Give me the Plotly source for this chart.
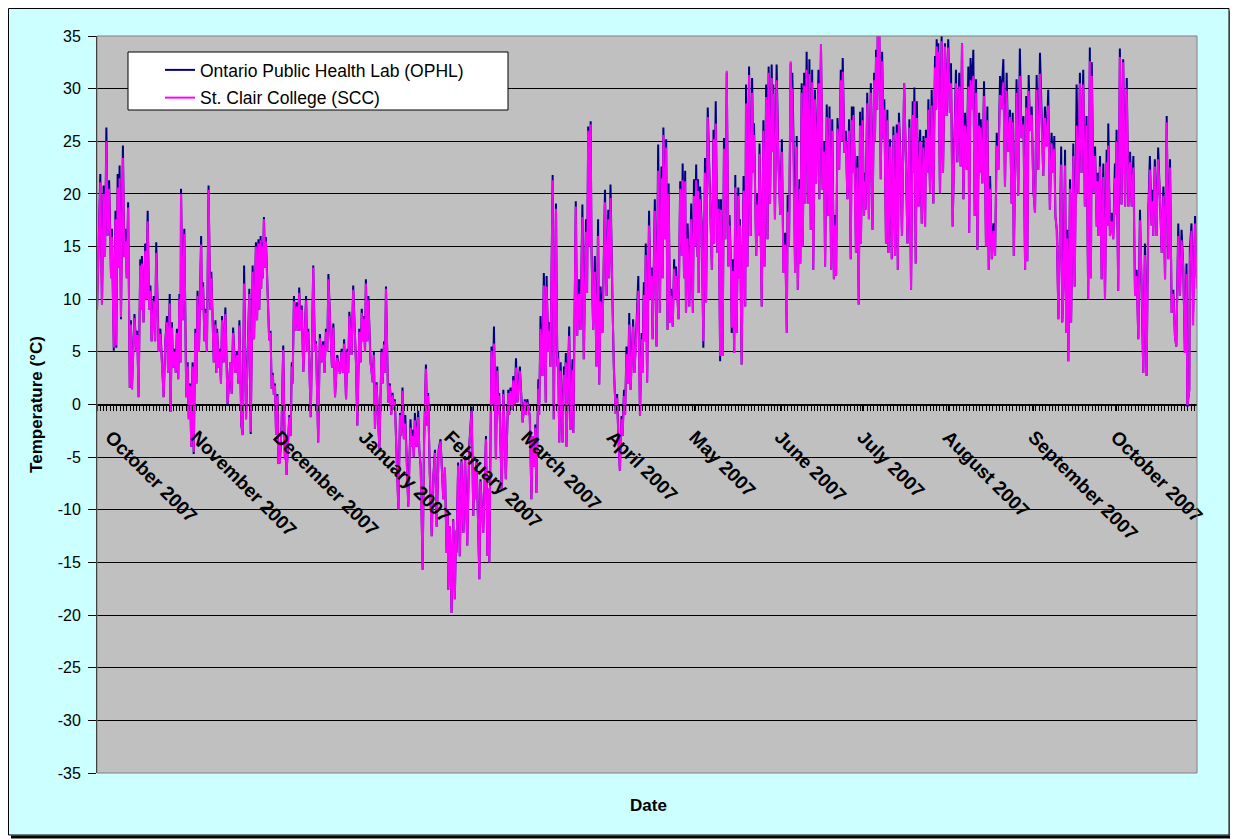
import pandas as pd
import plotly.graph_objects as go

# ---------------- data ----------------
START = "2006-09-26"          # day 0 of the record
END_DAY = 399.3               # right edge of the plotted period (days after START)

month_ticks = ["2006-10-01", "2006-11-01", "2006-12-01", "2007-01-01", "2007-02-01",
               "2007-03-01", "2007-04-01", "2007-05-01", "2007-06-01", "2007-07-01",
               "2007-08-01", "2007-09-01", "2007-10-01"]
month_labels = ["October 2007", "November 2007", "December 2007", "January 2007",
                "February 2007", "March 2007", "April 2007", "May 2007", "June 2007",
                "July 2007", "August 2007", "September 2007", "October 2007"]
y_ticks = [-35, -30, -25, -20, -15, -10, -5, 0, 5, 10, 15, 20, 25, 30, 35]
y_labels = ["-35", "-30", "-25", "-20", "-15", "-10", "-5", "0", "5", "10", "15",
            "20", "25", "30", "35"]

# segment A: late Sep - mid Nov
days_a = [0.0, 1.2, 1.8, 2.4, 2.9, 3.4, 3.9, 4.4, 5.1, 5.4,
          6.1, 6.7, 7.0, 7.5, 7.9, 8.2, 8.7, 9.4, 9.9, 10.3,
          10.8, 11.3, 11.9, 12.3, 12.7, 13.6, 14.3, 14.6, 15.1, 15.7,
          16.1, 16.3, 16.9, 17.5, 17.9, 18.4, 18.9, 19.4, 19.8, 20.6,
          21.1, 21.5, 22.4, 23.0, 24.2, 24.8, 25.4, 25.8, 26.4, 26.7,
          27.2, 27.6, 28.1, 28.6, 29.0, 29.5, 29.9, 30.3, 30.5, 31.1,
          31.7, 32.4, 32.9, 33.3, 33.8, 34.2, 34.7, 35.1, 35.7, 36.1,
          36.5, 37.0, 37.8, 38.1, 38.5, 39.0, 39.3, 39.9, 40.5, 41.1,
          41.5, 42.4, 43.0, 43.3, 43.6, 44.2, 44.5, 45.0, 45.4, 46.0,
          46.6, 47.4, 48.4, 48.9, 49.4, 50.2, 50.8, 51.3, 51.7, 52.4]
ophl_a = [9, 21.9, 9.5, 20.8, 14, 26.3, 16, 21.3, 12, 16.7,
          5.1, 18.4, 5.4, 21.9, 13, 22.7, 8.1, 24.6, 14, 16.7,
          12, 19.2, 1.6, 8, 1.6, 8.6, 5, 7, 0.7, 13.8,
          9, 14.1, 7.8, 15.3, 10, 18.4, 9, 11.3, 6, 10.3,
          6, 15.4, 5, 7.2, 0.7, 6, 8.4, 3, 10.5, -0.7,
          7.8, 3.5, 5.3, 3, 7.2, 2.4, 10.5, 4, 20.5, 8,
          16.7, 0.7, 4, -1.4, 2, -4, 4, -4.7, 7.2, 2,
          10.8, 5, 16, 9, 11.6, 6, 9.1, 5, 20.8, 9,
          12.6, 4, 8, 3, 7.2, 3.5, 5.3, 2, 8.4, 4,
          9.2, -0.1, 4, 1, 7.3, 3, 5, 2, 8, -2]
scc_a = [9, 21.1, 9.5, 20.0, 14, 25.0, 16, 20.5, 12, 15.9,
         5.4, 17.6, 5.6, 20.6, 13, 21.5, 8.3, 23.4, 14, 15.5,
         12, 18.7, 1.6, 7.6, 1.4, 8.2, 5, 6.6, 0.7, 13.2,
         9, 13.4, 7.8, 14.6, 10, 17.4, 9, 10.8, 6, 9.8,
         6, 14.4, 5, 6.7, 0.7, 6, 7.8, 3, 9.6, -0.7,
         7.3, 3.5, 5, 3, 6.8, 2.4, 10, 4, 20, 8,
         16.2, 0.7, 3.6, -1.4, 1.8, -4, 3.6, -4.5, 6.8, 2,
         10.3, 5, 15.2, 9, 11.2, 6, 8.7, 5, 20.4, 9,
         12, 4, 7.6, 3, 6.8, 3.5, 5, 2, 8, 4,
         8.6, 0.1, 4, 1, 6.8, 3, 4.7, 2, 7.5, -1.8]

# segment B: mid Nov - early Jan
days_b = [52.9, 53.4, 54.1, 55.3, 55.8, 56.5, 57.0, 57.7, 58.1, 58.6,
          58.9, 59.4, 59.6, 59.9, 60.2, 60.6, 61.0, 61.3, 62.5, 63.0,
          63.4, 63.8, 64.2, 64.6, 65.0, 65.5, 65.8, 66.4, 67.0, 67.6,
          68.2, 68.6, 68.8, 69.8, 70.3, 70.7, 71.0, 71.5, 72.0, 72.5,
          73.0, 73.4, 73.9, 74.3, 74.9, 75.9, 76.3, 76.7, 77.6, 78.5,
          79.1, 79.5, 80.3, 80.9, 81.5, 82.1, 82.6, 83.1, 83.6, 84.0,
          84.8, 85.3, 85.8, 86.4, 87.2, 88.2, 88.8, 89.3, 89.7, 90.4,
          90.9, 91.2, 91.6, 92.4, 93.0, 94.0, 94.5, 95.2, 95.7, 96.1,
          96.6, 96.9, 97.3, 97.6, 98.1, 98.5, 99.3, 100.1, 100.5, 100.9,
          101.5, 102.0, 102.5, 103.3, 103.7, 104.2, 104.5, 104.9]
ophl_b = [-2.9, 13.2, -1.4, 11, -2.8, 13.2, 6.2, 15.4, 8, 15.7,
          9, 16, 11, 15.4, 12, 17.8, 13, 15.9, 6.1, 7,
          1.5, 3, 0.9, 2, -2.9, 1, -5.6, -5.5, -2, 5.6,
          -5.2, -3, -6.7, -1, -3, 4, 2, 10.3, 7, 9.7,
          7, 11.1, 7, 9.4, 3.1, 10.3, 5, 7.2, -1.2, 13.2,
          5, 6, -3.6, 6.7, 4, 6, 3, 7.2, 5, 12.4,
          6.6, 3.5, 7.7, 0.7, 4.7, 2.9, 5.3, 3, 6.2, 0.5,
          5.3, 3, 8.8, 4.7, 11.3, 4, -2, 7.2, 4, 9.1,
          6, 8.4, 5, 11.9, 6, 10.3, 4, 2.1, 5, -2.3,
          2.1, -1, -4.2, 5.3, 2, 6, 3, 11.2]
scc_b = [-2.9, 11.5, -1.4, 10.5, -2.6, 12.6, 6.2, 15, 8, 15.3,
         9, 15.6, 11, 15, 12, 17.6, 13, 15.5, 6.1, 6.8,
         1.5, 2.8, 0.9, 1.8, -2.9, 0.8, -5.6, -5.5, -2, 5.2,
         -5.2, -3.2, -6.7, -1.2, -3, 3.6, 2, 9.8, 7, 9.3,
         7, 10.6, 7, 9, 3.1, 9.9, 5, 6.9, -1.2, 13,
         5, 5.8, -3.6, 6.3, 4, 5.7, 3, 6.9, 5, 11.9,
         6.6, 3.5, 7.3, 0.7, 4.4, 2.9, 5, 3, 5.8, 0.5,
         5, 3, 8.4, 4.7, 10.9, 4, -2, 6.9, 4, 8.7,
         6, 8.1, 5, 11.5, 6, 9.9, 4, 2.1, 4.7, -2.3,
         1.9, -1, -4.2, 5, 2, 5.7, 3, 11]

# segment C: January - February
days_c = [105.7, 106.3, 106.8, 107.3, 107.8, 108.1, 108.5, 109.4, 110.0, 110.4,
          110.9, 111.4, 111.9, 112.4, 113.0, 113.8, 114.2, 114.6, 115.0, 115.4,
          116.0, 116.6, 117.0, 117.5, 118.2, 118.7, 119.4, 119.9, 120.2, 120.8,
          121.5, 122.1, 122.7, 123.3, 124.0, 124.7, 125.7, 126.3, 126.9, 127.3,
          127.5, 128.1, 128.7, 129.3, 129.9, 130.3, 130.5, 131.1, 131.7, 132.3,
          133.0, 133.6, 134.4, 135.1, 136.0, 136.6, 136.9, 137.3, 137.8, 138.8,
          139.2, 140.2, 141.2, 141.7, 142.0, 142.4, 143.2, 143.6, 144.1, 144.8,
          145.3, 145.7, 146.0, 146.9, 147.5, 148.4, 149.3, 149.6, 150.1, 150.6,
          151.1, 151.6, 152.1, 152.6, 153.0]
ophl_c = [0.2, 2, -1, 1.1, -0.5, 0.5, -2.4, -10, -0.8, -3,
          1.6, -3.3, -1, -4.9, -9.7, -1.4, -4, -2.4, -5, -0.8,
          -4, -0.6, -4.3, -5.9, -15.7, -4, 3.8, -2, 1.1, -6.5,
          -12.5, -6.8, -4.3, -11.6, -4.3, -3.3, -9, -6, -14.1, -10,
          -17.6, -11.6, -19.8, -10.9, -18.5, -12, -14.1, -5.5, -14.4, -5.2,
          -12.2, -4.9, -13.4, -4, -0.2, -10.6, -6, -9, -5.2, -16.6,
          -7.1, -12.2, -3, -14.4, -8, -15, 5.5, 0, 7.4, -5.2,
          3.6, -1, 1.1, -8.1, 1.4, -7.1, 1.4, -1, 1.6, -0.5,
          2.7, 0, 4.4, 0.2, 1.5]
scc_c = [0.2, 1.8, -1, 0.9, -0.5, 0.3, -2.4, -10, -1, -3,
         1.3, -3.3, -1.8, -4.9, -9.7, -2.2, -4, -3, -5, -1.5,
         -4, -1.2, -4.3, -5.9, -15.7, -4, 3.4, -2, 0.8, -6.5,
         -12.5, -6.8, -4.6, -11.6, -4.5, -3.5, -9, -6, -14.1, -10,
         -17.6, -11.6, -19.8, -11, -18.5, -12, -14.1, -5.8, -14.4, -5.4,
         -12.2, -5.2, -13.4, -4.2, -0.6, -10.6, -6, -9, -5.5, -16.6,
         -7.3, -12.2, -3.3, -14.4, -8, -15, 5.1, 0, 5.8, -5.2,
         3.2, -1, 0.8, -8.1, 1, -7.1, 1.1, -1, 1.3, -0.5,
         2.3, 0, 3.5, 0.2, 1.2]

# segment D: March - April
days_d = [153.5, 154.5, 155.3, 155.7, 156.2, 157.1, 157.7, 158.1, 158.6, 159.1,
          159.5, 160.2, 160.5, 161.0, 161.7, 162.2, 162.9, 163.2, 163.8, 164.1,
          164.6, 165.4, 165.8, 166.6, 167.1, 167.4, 167.8, 168.3, 169.0, 169.5,
          169.8, 170.2, 170.4, 171.4, 171.9, 172.6, 172.9, 173.8, 174.3, 175.0,
          175.5, 176.2, 176.7, 177.5, 177.9, 178.3, 178.8, 179.2, 179.5, 180.1,
          180.7, 181.3, 181.9, 182.3, 182.8, 183.5, 184.4, 185.0, 185.6, 185.9,
          186.4, 187.1, 187.6, 188.3, 188.8, 189.2, 189.8, 190.4, 190.8, 191.3,
          191.7, 192.2, 192.8, 193.2, 193.7, 194.6, 195.1, 195.6, 196.5, 197.1,
          197.7, 198.0, 198.5, 198.9, 199.2, 199.7, 200.4, 200.9, 201.3, 201.7,
          202.5, 203.1, 203.7, 204.3, 204.9, 205.3, 205.6]
ophl_d = [3.6, -1.7, 0.5, -1, 0.5, -1.1, -9, -3, -5.9, -1.9,
          -8.4, 2.4, -1, 8.4, 2.7, 12.5, 0.2, 12.2, 5, 7.8,
          3.6, 21.8, -1.4, 19.1, 3.6, 5, -3.6, 4, -3.6, 3.6,
          1, 4.9, -4, 7.4, -2.4, 4.3, -2.7, 19.3, 6.5, 11.9,
          7.1, 19, 4.3, 17.6, 10.6, 26.4, 15, 26.9, 14.7, 7.1,
          14.1, 3.6, 17.6, 1.9, 11.2, 6.8, 20.4, 10.3, 18.5, 12,
          20.9, 10, 3.6, -0.9, 1, -2.7, -6.3, -1.1, -3, 1.4,
          -1, 5.5, 2, 8.7, 1.4, 8.1, 3, 5.9, 12.2, -1.1,
          6.8, 3, 11.6, 6, 15.3, 2.1, 18.4, 10, 13, 6.2,
          19.5, 5.5, 24.7, 8.7, 22.6, 12, 26.3]
scc_d = [3.2, -1.7, 0.3, -1, 0.2, -1.1, -9, -3, -5.9, -2.2,
         -8.4, 1.5, -1, 7.2, 2.7, 11.3, 0.2, 11.2, 5, 7,
         3.6, 21.3, -1.4, 18.6, 3.6, 4.4, -3.6, 3.2, -3.6, 2.8,
         1, 4, -4, 6.5, -2.4, 3.3, -2.7, 18.8, 6.5, 10.5,
         7.1, 17.8, 4.3, 16.4, 10.6, 26, 15, 26.6, 14.7, 7.1,
         12.6, 3.6, 16, 1.9, 9.8, 6.8, 19.2, 10.3, 17.6, 12,
         19.6, 10, 3.6, -0.9, 0.6, -2.7, -6.3, -1.4, -3, 0.8,
         -1, 4.8, 2, 7.6, 1.4, 7.4, 3, 5.7, 10.8, -1.1,
         6.2, 3, 10.4, 6, 14.2, 2.1, 17, 10, 12.2, 6.2,
         18.4, 5.5, 22.2, 8.7, 21.5, 12, 25.6]

# segment E: May - June
days_e = [206.1, 206.6, 207.1, 207.5, 208.0, 208.4, 209.0, 209.5, 209.8, 210.2,
          211.1, 211.7, 212.3, 212.6, 213.1, 213.5, 213.8, 214.4, 215.0, 215.7,
          216.3, 216.7, 217.1, 217.5, 218.0, 218.2, 218.4, 218.9, 219.5, 220.1,
          220.7, 221.1, 221.7, 222.5, 223.2, 223.8, 224.0, 224.6, 225.2, 225.7,
          226.2, 226.5, 227.1, 227.6, 228.1, 228.6, 229.2, 229.6, 230.1, 230.4,
          230.8, 231.3, 231.7, 232.2, 232.8, 233.2, 233.4, 234.0, 234.7, 235.3,
          235.6, 236.1, 236.7, 237.3, 237.8, 238.3, 238.5, 239.3, 239.7, 240.1,
          240.5, 241.3, 241.9, 242.3, 242.9, 243.4, 243.8, 244.3, 244.9, 245.3,
          245.5, 246.1, 246.7, 247.4, 248.0, 248.6, 249.2, 249.8, 250.4, 250.7,
          251.2, 251.8, 252.2, 252.4, 253.0, 253.4, 254.0, 254.4, 255.0, 255.3]
ophl_e = [15.7, 25.2, 7.1, 21, 7.8, 11, 7.4, 13.8, 10, 13.1,
          8.1, 21.2, 14.1, 22.9, 12, 22.2, 8.7, 17.2, 9.3, 19.1,
          8.7, 21.4, 15, 22.8, 14, 21.4, 10.6, 20.7, 17.2, 5.4,
          23.4, 9.7, 28.2, 18.8, 12.8, 26.1, 15.3, 28.8, 14.4, 19.5,
          4.1, 19.5, 4.6, 25.3, 15.7, 31.5, 13.1, 18, 13.5, 6.8,
          13.8, 4.9, 21.8, 6.8, 20.6, 12, 17.6, 3.8, 21.7, 9.3,
          30.4, 13.1, 32.1, 16, 31, 22, 26.7, 14.1, 20, 16,
          24.8, 9.3, 27, 13.1, 30.4, 15.7, 32.1, 19.1, 32.3, 24,
          30.4, 17.6, 32.3, 22.9, 18, 25.2, 12.5, 16.3, 6.8, 19.9,
          15, 32.4, 25, 31.5, 22.6, 12.5, 25.5, 10.9, 21.4, 13.4]
scc_e = [15.7, 24.4, 7.1, 20, 7.8, 10.3, 7.4, 12.9, 10, 12.2,
         8.1, 20.5, 14.1, 21.3, 12, 21.2, 8.7, 15.8, 9.3, 17.6,
         8.7, 19.8, 15, 21.3, 14, 20.3, 10.6, 19.5, 16.8, 6,
         22, 9.7, 27.3, 18.8, 12.8, 25.2, 15.3, 26.7, 14.4, 18.6,
         4.6, 18.5, 4.6, 24.3, 15.7, 31.7, 13.1, 17, 13.5, 7.3,
         12.7, 4.9, 20.6, 6.8, 19.8, 12, 17, 3.8, 20.3, 9.3,
         28.6, 13.1, 31.3, 16, 29.6, 22, 25.6, 14.1, 19, 16,
         23.8, 9.3, 26, 13.1, 29.2, 15.7, 31.5, 19.1, 31, 24,
         29.5, 17.6, 30.8, 22.2, 18, 24, 12.5, 15.2, 6.8, 18.3,
         15, 32.6, 25, 30, 21.5, 12.5, 24.5, 10.9, 20.5, 13.4]

# segment F: June - July
days_f = [255.8, 256.2, 256.7, 257.1, 257.6, 258.2, 258.6, 259.1, 259.6, 260.0,
          260.6, 261.0, 261.9, 262.2, 262.8, 263.4, 263.9, 264.3, 264.9, 265.5,
          265.9, 266.5, 266.9, 267.5, 267.9, 268.3, 268.8, 269.4, 270.0, 270.3,
          270.7, 271.3, 271.8, 272.4, 273.0, 273.6, 274.0, 274.3, 274.6, 275.2,
          275.5, 276.0, 276.5, 277.0, 277.3, 277.9, 278.4, 278.8, 279.0, 279.6,
          280.2, 280.9, 281.5, 282.1, 282.4, 282.8, 283.2, 283.4, 283.8, 284.0,
          284.5, 285.0, 285.5, 285.8, 286.4, 286.9, 287.3, 287.9, 288.5, 289.1,
          289.7, 290.3, 290.7, 291.1, 291.7, 292.2, 293.0, 293.6, 294.2, 294.9,
          295.5, 296.1, 296.4, 296.7, 297.2, 297.6, 298.2, 298.8, 299.4, 300.0,
          300.6, 300.9, 301.4, 301.8, 302.4, 303.0, 303.6, 304.2, 304.6, 304.8,
          305.2, 305.4]
ophl_f = [30.5, 15, 31.5, 19.1, 33.5, 19.1, 32.8, 16.6, 31.8, 12.8,
          29.9, 21, 31.8, 19.5, 34.2, 20.4, 25, 13.1, 28.5, 17.9,
          28.3, 12.8, 27.1, 11.9, 18, 12.2, 27.2, 22.3, 31.8, 25,
          32.9, 23.9, 26, 19.5, 27.1, 13.8, 28.3, 22, 28.3, 21,
          14.4, 23.6, 9.5, 27.8, 15.3, 28.2, 17.9, 22, 18.5, 29.6,
          17.6, 30.5, 16.6, 31.5, 25, 33.7, 28, 35.1, 30, 35,
          21.4, 33.5, 25.2, 29, 15.3, 28, 14.4, 25.2, 13.8, 26.4,
          14.1, 26.6, 12.8, 27.7, 22.9, 16, 30.5, 23.6, 15.3, 27.1,
          10.9, 28.8, 22, 30.1, 13.4, 28.8, 18.8, 26.1, 17.2, 25.5,
          16.9, 26.1, 22, 29, 20.1, 29.9, 19.1, 33.1, 28, 34.7,
          30, 34.3]
scc_f = [29.6, 15, 30.3, 19.1, 31.8, 19.1, 31.4, 16.6, 30.6, 12.8,
         29, 21, 30.5, 19.5, 34.2, 20.4, 24, 13.1, 27.3, 17.9,
         27.2, 12.8, 26, 11.9, 17, 12.2, 26.2, 22.3, 30.8, 25,
         31.6, 23.9, 25, 19.5, 26, 13.8, 27, 22, 27.5, 20.5,
         14.4, 22.5, 9.5, 26.5, 15.3, 27, 17.9, 21.2, 18.5, 28.6,
         17.6, 29.6, 16.6, 30.8, 25, 33, 28, 35.1, 30, 35,
         21.4, 32.6, 25.2, 28, 15.3, 27, 14.4, 24.5, 13.8, 25.6,
         14.1, 25.8, 12.8, 26.8, 22.5, 16, 30.5, 23.6, 15.3, 26.3,
         10.9, 27.5, 22, 28.8, 13.4, 27.2, 18.8, 25, 17.2, 24.4,
         16.9, 25.3, 22, 28, 20.1, 28.4, 19.1, 32, 28, 34,
         30, 33.5]

# segment G: August - early September
days_g = [306.0, 306.6, 307.1, 307.8, 308.4, 309.0, 309.6, 310.0, 310.6, 311.1,
          311.8, 312.3, 313.0, 313.5, 314.0, 314.5, 315.1, 315.7, 316.3, 316.6,
          317.1, 317.6, 318.1, 318.6, 319.1, 319.6, 320.2, 320.5, 320.8, 321.4,
          322.0, 322.7, 323.2, 323.7, 324.2, 324.8, 325.4, 326.0, 326.6, 327.2,
          327.8, 328.4, 329.0, 329.6, 330.2, 330.8, 331.4, 332.0, 332.4, 332.8,
          333.3, 333.8, 334.4, 335.0, 335.6, 336.3, 336.9, 337.3, 337.7, 338.2,
          338.7, 339.3, 339.9, 340.5, 341.1, 341.7, 342.3, 342.9, 343.5, 344.1,
          344.7, 345.3, 345.9, 346.5, 347.1, 347.5, 347.9, 348.4, 349.0, 349.6,
          350.0, 350.4, 350.9, 351.4, 351.8, 352.2, 352.6, 353.2, 353.6, 354.4]
ophl_g = [20.1, 35.0, 22.0, 34.3, 27.4, 34.7, 27.7, 32.4, 16.9, 23.6,
          31.8, 23.0, 31.5, 22.6, 34.3, 19.5, 27.7, 22.3, 32.1, 16.3,
          32.9, 29.0, 33.7, 17.9, 30.9, 14.7, 27.7, 22, 27.1, 21,
          30.7, 15, 28.3, 12.8, 21.7, 13.8, 17.2, 14.1, 25.8, 22.3,
          31.2, 29.3, 32.8, 20.7, 31.5, 24, 28, 19.1, 27.7, 14.1,
          21.7, 30.9, 19.8, 33.8, 25.3, 27.4, 12.8, 29.3, 13.6, 31.3,
          26, 28.3, 20.4, 18.2, 31.3, 22.3, 33.4, 27.7, 21.7, 28.3,
          24.5, 29.9, 18.5, 25.8, 22, 25.5, 17.9, 16.6, 8.1, 17.2,
          24.5, 7.8, 11.9, 24.2, 6.8, 16.6, 4.1, 21.4, 7.8, 24.8]
scc_g = [20.1, 34.5, 22, 34, 27.4, 33.9, 27.7, 30.5, 16.9, 23,
         30.5, 23, 30.2, 22.6, 34.3, 19.5, 26.5, 22.3, 30.2, 16.3,
         30.8, 28, 31.2, 17.9, 29.6, 14.7, 26.5, 22, 26.3, 21,
         29.3, 15, 27, 12.8, 20.5, 13.8, 16.5, 14.1, 24.6, 22.3,
         29.4, 28, 30.6, 20.7, 29.8, 24, 27.3, 19.1, 26.8, 14.1,
         21, 29.6, 19.8, 31.2, 25.3, 26.6, 12.8, 28.2, 13.6, 29.8,
         26, 27.5, 20.4, 18.2, 29.9, 22.3, 31.4, 27, 21.7, 27.2,
         24.5, 28.4, 18.5, 24.8, 22, 24.3, 17.9, 16.6, 8.1, 17,
         22.8, 7.8, 11.5, 22.7, 6.8, 15.8, 4.1, 20.5, 7.8, 23.6]

# segment H: mid September - end of October
days_h = [354.9, 355.6, 356.2, 356.8, 357.4, 358.0, 358.6, 359.2, 359.8, 360.4,
          360.8, 361.1, 361.7, 362.3, 362.9, 363.2, 363.5, 364.1, 364.7, 365.3,
          365.9, 366.5, 366.8, 367.1, 367.7, 368.3, 368.9, 369.5, 369.8, 370.1,
          370.7, 371.3, 371.9, 372.5, 373.2, 373.8, 374.4, 375.0, 375.6, 376.2,
          376.8, 377.4, 378.0, 378.6, 379.2, 379.8, 380.4, 381.0, 381.6, 382.2,
          382.8, 383.2, 383.4, 384.0, 384.6, 385.2, 385.8, 386.5, 387.1, 387.7,
          388.3, 388.9, 389.5, 390.1, 390.7, 391.3, 391.8, 392.5, 393.1, 393.7,
          394.3, 394.9, 395.5, 395.8, 396.5, 396.7, 397.3, 397.9, 398.6, 399.2]
ophl_h = [11.2, 30.4, 20, 31.5, 22, 31.8, 18.8, 27.4, 10, 33.9,
          12, 32.5, 20.1, 24.5, 16.9, 22, 16, 23.6, 11.9, 22.9,
          10, 24.2, 17, 26.7, 16, 18.2, 15.7, 22.9, 18, 26.1,
          10.8, 33.8, 19, 32.8, 18.8, 31, 18.8, 24, 18.8, 23.6,
          10.3, 12.8, 6.2, 18.5, 11.9, 3, 15.3, 2.7, 18.2, 23.6,
          17, 20.4, 16, 23.3, 16, 24.4, 20, 14.4, 20.7, 11.9,
          27.4, 13.8, 23.3, 8.7, 10.9, 6.5, 5.5, 17.2, 10.3, 16.6,
          13.1, 4.9, 13.4, -0.2, 1.4, 14.7, 17.2, 8.7, 17.9, 12]
scc_h = [11.2, 26.5, 20, 30.5, 22, 30.4, 18.8, 26.5, 10, 32.6,
         12, 31.2, 20.1, 23.6, 16.9, 21.2, 16, 22.6, 11.9, 21.6,
         10, 23, 17, 24.6, 16, 17.4, 15.7, 21.5, 18, 25,
         10.8, 33, 19, 32.5, 18.8, 30, 18.8, 23, 18.8, 22.5,
         10.3, 12.2, 6.2, 17.5, 11.9, 3, 14.2, 2.7, 17.6, 22.3,
         17, 19.3, 16, 22.6, 16, 23.3, 20, 14.4, 19.8, 11.9,
         26.8, 13.8, 22.5, 8.7, 10.5, 6.5, 5.5, 16, 10.3, 15.6,
         13.1, 4.9, 12.4, -0.2, 1.4, 13.5, 16.5, 7.5, 17.2, 11]

# ---------------- assemble ----------------
seg_days = [days_a, days_b, days_c, days_d, days_e, days_f, days_g, days_h]
seg_ophl = [ophl_a, ophl_b, ophl_c, ophl_d, ophl_e, ophl_f, ophl_g, ophl_h]
seg_scc = [scc_a, scc_b, scc_c, scc_d, scc_e, scc_f, scc_g, scc_h]
for i, (d, o, s) in enumerate(zip(seg_days, seg_ophl, seg_scc)):
    assert len(d) == len(o) == len(s), (i, len(d), len(o), len(s))

days = [v for seg in seg_days for v in seg]
ophl = [v for seg in seg_ophl for v in seg]
scc = [v for seg in seg_scc for v in seg]

t0 = pd.Timestamp(START)
dates = [t0 + pd.Timedelta(days=d) for d in days]
x_end = t0 + pd.Timedelta(days=END_DAY)

FONT = "Liberation Sans, Arial, sans-serif"

# The page body has an 8px margin, so the figure is drawn 8px in from the
# window corner.  Geometry below is in window pixels.
OFF = 8
W, H = 1238 - OFF, 840 - OFF
PL, PR, PT, PB = 97, 1197, 36, 773          # plot area in window pixels
L, T = PL - OFF, PT - OFF
R, B = W - (PR - OFF), H - (PB - OFF)
PW, PH = PR - PL, PB - PT


def px(xw):
    return (xw - PL) / PW


def py(yw):
    return (PB - yw) / PH


fig = go.Figure()
fig.add_trace(go.Scatter(x=dates, y=ophl, mode="lines", name="Ontario Public Health Lab (OPHL)",
                         legendgroup="a", line=dict(color="#000080", width=2)))
fig.add_trace(go.Scatter(x=dates, y=scc, mode="lines", name="St. Clair College (SCC)",
                         legendgroup="b", line=dict(color="#FF00FF", width=2)))

fig.update_layout(
    width=W, height=H,
    margin=dict(l=L, r=R, t=T, b=B, autoexpand=False),
    paper_bgcolor="white",
    plot_bgcolor="#C0C0C0",
    font=dict(family=FONT, size=16, color="black"),
    showlegend=True,
    legend=dict(x=px(160), y=py(52), xanchor="left", yanchor="top",
                bgcolor="rgba(0,0,0,0)", borderwidth=0, tracegroupgap=2,
                font=dict(family=FONT, size=17.5, color="black")),
    xaxis=dict(
        type="date", range=[t0, x_end],
        anchor="free", position=0.5,
        showline=True, linecolor="black", linewidth=1,
        showgrid=False, zeroline=False,
        ticks="outside", ticklen=5, tickcolor="black", tickwidth=1,
        tickmode="array", tickvals=month_ticks,
        ticktext=["<b>" + s + "</b>" for s in month_labels],
        tickangle=45, ticklabelstandoff=8,
        tickfont=dict(family=FONT, size=19, color="black"),
        minor=dict(ticks="outside", ticklen=5, tickcolor="black", tickwidth=1,
                   tick0=START, dtick=1.2 * 86400000, showgrid=False),
    ),
    yaxis=dict(
        range=[-35, 35], tickmode="array", tickvals=y_ticks, ticktext=y_labels,
        showgrid=True, gridcolor="black", gridwidth=1,
        showline=True, linecolor="black", linewidth=1,
        zeroline=False,
        ticks="outside", ticklen=8, tickcolor="black", ticklabelstandoff=4,
        tickfont=dict(family=FONT, size=16, color="black"),
        title=dict(text="<b>Temperature (°C)</b>", standoff=10,
                   font=dict(family=FONT, size=17, color="black")),
    ),
    shapes=[
        # cyan chart area inside the outer border
        dict(type="rect", xref="paper", yref="paper", x0=px(8.5), x1=px(1229),
             y0=py(835), y1=py(8.5), fillcolor="#CCFFFF",
             line=dict(color="black", width=1), layer="below"),
        # grey plot area (drawn over the cyan, under grid and data)
        dict(type="rect", xref="paper", yref="paper", x0=0, x1=1, y0=0, y1=1,
             fillcolor="#C0C0C0", line=dict(width=0), layer="below"),
        # shadow of the outer border
        dict(type="line", xref="paper", yref="paper", x0=px(11), x1=px(1231),
             y0=py(837), y1=py(837), line=dict(color="black", width=3)),
        dict(type="line", xref="paper", yref="paper", x0=px(1231), x1=px(1231),
             y0=py(11), y1=py(838.5), line=dict(color="black", width=3)),
        # plot-area border
        dict(type="rect", xref="paper", yref="paper", x0=0, x1=1, y0=0, y1=1,
             line=dict(color="#808080", width=1), layer="above"),
        # legend box
        dict(type="rect", xref="paper", yref="paper", x0=px(128), x1=px(508),
             y0=py(110), y1=py(52), fillcolor="white",
             line=dict(color="black", width=1), layer="above"),
    ],
    annotations=[
        dict(text="<b>Date</b>", xref="paper", yref="paper", x=px(648), y=py(806),
             showarrow=False, font=dict(family=FONT, size=17, color="black"),
             xanchor="center", yanchor="middle"),
    ],
)

fig.write_html("out.html")
